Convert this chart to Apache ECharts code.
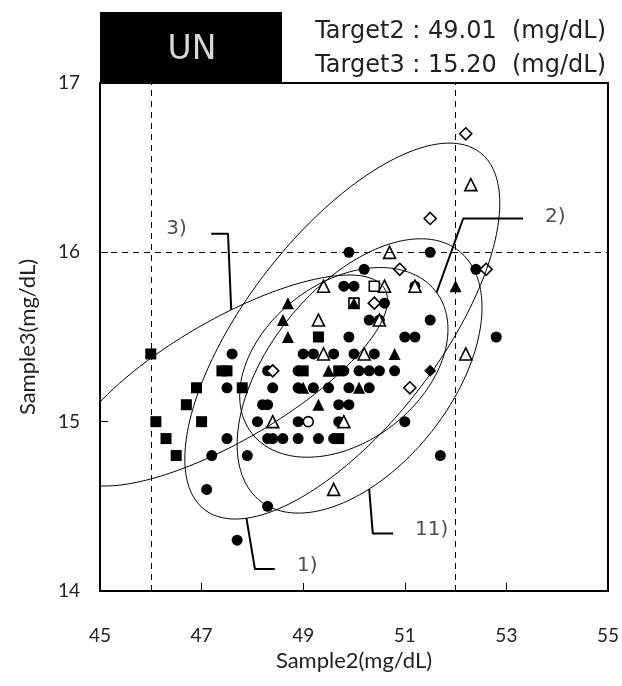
<!DOCTYPE html>
<html>
<head>
<meta charset="utf-8">
<script src="https://cdn.jsdelivr.net/npm/echarts@6/dist/echarts.min.js"></script>
<style>
  html, body { margin: 0; padding: 0; background: #fff; }
  #chart { width: 622px; height: 686px; }
</style>
</head>
<body>
<div id="chart"></div>
<script>
// Axis ticks
const xTickLabels = [45, 47, 49, 51, 53, 55];
const yTickLabels = [14, 15, 16, 17];

// Target values (reference lines) and header text
const targetX = 49.01;
const targetY = 15.20;
const refLinesX = [46, 52];
const refLinesY = [16];

// Measured pairs [Sample2, Sample3], one array per marker group
const filledCircle = [
  [49.9,16.0],[51.5,16.0],[50.2,15.9],[52.4,15.9],[49.8,15.8],[50.0,15.8],[51.2,15.8],
  [50.6,15.7],[50.3,15.6],[50.5,15.6],[51.5,15.6],[49.9,15.5],[51.0,15.5],[51.2,15.5],
  [52.8,15.5],[47.6,15.4],[49.0,15.4],[49.2,15.4],[49.6,15.4],[50.0,15.4],[50.4,15.4],
  [48.3,15.3],[48.9,15.3],[49.8,15.3],[50.1,15.3],[50.3,15.3],[50.5,15.3],[50.8,15.3],
  [47.5,15.2],[48.4,15.2],[48.9,15.2],[49.2,15.2],[49.5,15.2],[49.9,15.2],[50.3,15.2],
  [48.2,15.1],[48.3,15.1],[49.7,15.1],[49.9,15.1],[48.1,15.0],[48.9,15.0],[49.7,15.0],
  [51.0,15.0],[47.5,14.9],[48.3,14.9],[48.4,14.9],[48.6,14.9],[48.9,14.9],[49.3,14.9],
  [49.6,14.9],[47.2,14.8],[47.9,14.8],[51.7,14.8],[47.1,14.6],[48.3,14.5],[47.7,14.3]
];
const filledSquare = [
  [46.0,15.4],[47.4,15.3],[47.5,15.3],[46.9,15.2],[47.8,15.2],[46.7,15.1],[46.1,15.0],
  [47.0,15.0],[46.3,14.9],[46.5,14.8],[49.3,15.5],[49.0,15.3],[49.7,15.3],[49.7,14.9]
];
const openSquare = [[50.4,15.8],[50.0,15.7]];
const openCircle = [[49.1,15.0]];
const filledTriangle = [
  [48.7,15.7],[48.6,15.6],[48.7,15.5],[52.0,15.8],[50.8,15.4],[49.3,15.1],[49.0,15.2],
  [49.5,15.3],[50.1,15.2],[50.0,15.7]
];
const openTriangle = [
  [50.7,16.0],[52.3,16.4],[49.4,15.8],[50.6,15.8],[51.2,15.8],[49.3,15.6],[50.5,15.6],
  [49.4,15.4],[50.2,15.4],[52.2,15.4],[48.4,15.0],[49.8,15.0],[49.6,14.6]
];
const openDiamond = [[52.2,16.7],[51.5,16.2],[50.9,15.9],[52.6,15.9],[50.4,15.7],[48.4,15.3],[51.1,15.2]];
const filledDiamond = [[51.5,15.3]];

// Confidence ellipses: centre, half-ranges and correlation
const ellipseNames = ['1)', '11)', '2)', '3)'];
const ellipseCx  = [49.77, 50.11, 49.80, 47.50];
const ellipseCy  = [15.535, 15.27, 15.35, 15.243];
const ellipseRx  = [3.10, 2.41, 2.05, 3.16];
const ellipseRy  = [1.11, 0.81, 0.56, 0.623];
const ellipseRho = [0.68, 0.50, 0.35, 0.76];

// Callouts: approximate anchor near the ellipse, elbow, end of leader, label position
const calloutAnchor = [[47.89,14.43],[50.22,14.64],[51.59,15.76],[47.62,15.65]];
const calloutElbow  = [[48.05,14.13],[50.37,14.34],[52.15,16.20],[47.52,16.11]];
const calloutEnd    = [[48.44,14.13],[50.77,14.34],[53.33,16.20],[47.19,16.11]];
const calloutLabel  = [[48.88,14.15],[51.20,14.36],[53.76,16.21],[46.71,16.14]];
const calloutAlign  = ['left','left','left','right'];

const X_MIN = 45, X_MAX = 55, Y_MIN = 14, Y_MAX = 17;

function ellipsePath(i) {
  const pts = [];
  const s = Math.sqrt(1 - ellipseRho[i] * ellipseRho[i]);
  for (let k = 0; k <= 240; k++) {
    const t = (k / 240) * Math.PI * 2;
    pts.push([
      ellipseCx[i] + ellipseRx[i] * Math.cos(t),
      ellipseCy[i] + ellipseRy[i] * (ellipseRho[i] * Math.cos(t) + s * Math.sin(t))
    ]);
  }
  return pts;
}

// snap a callout anchor onto its ellipse outline (nearest point on screen)
function snapToEllipse(i, p) {
  const path = ellipsePath(i);
  let best = path[0], bd = Infinity;
  for (const q of path) {
    const dx = (q[0] - p[0]) / (X_MAX - X_MIN);
    const dy = (q[1] - p[1]) / (Y_MAX - Y_MIN);
    const d = dx * dx + dy * dy;
    if (d < bd) { bd = d; best = q; }
  }
  return best;
}

const FONT_WIDE = '"DejaVu Sans"';
const FONT = 'Lato';
const TEXT = '#222';
const series = [];

function scatter(name, data, symbol, size, filled) {
  series.push({
    name, type: 'scatter', data, symbol, symbolSize: size,
    itemStyle: filled
      ? { color: '#000', borderColor: '#000', borderWidth: 0, opacity: 1 }
      : { color: '#fff', borderColor: '#000', borderWidth: 1.6, opacity: 1 },
    emphasis: { disabled: true }, z: 3
  });
}

// reference dashed lines
series.push({
  type: 'line', data: [], silent: true,
  markLine: {
    symbol: 'none', silent: true, label: { show: false },
    lineStyle: { type: [6, 5], color: '#000', width: 1 },
    data: refLinesX.map(v => ({ xAxis: v })).concat(refLinesY.map(v => ({ yAxis: v })))
  }
});

scatter('filledSquare', filledSquare, 'rect', 11, true);
scatter('openSquare', openSquare, 'rect', 10, false);
scatter('filledCircle', filledCircle, 'circle', 11, true);
scatter('openCircle', openCircle, 'circle', 10, false);
scatter('filledTriangle', filledTriangle, 'triangle', 12, true);
scatter('openTriangle', openTriangle, 'triangle', 12, false);
scatter('openDiamond', openDiamond, 'diamond', 12, false);
scatter('filledDiamond', filledDiamond, 'diamond', 12, true);

ellipseNames.forEach((nm, i) => {
  series.push({
    name: 'ellipse ' + nm, type: 'line', data: ellipsePath(i), showSymbol: false,
    smooth: false, clip: true, silent: true,
    lineStyle: { color: '#000', width: 1 }, z: 4
  });
  const a = snapToEllipse(i, calloutAnchor[i]);
  series.push({
    name: 'callout ' + nm, type: 'line', showSymbol: false, silent: true, clip: false,
    data: [a, calloutElbow[i], calloutEnd[i]],
    lineStyle: { color: '#000', width: 2 }, z: 5
  });
  series.push({
    name: 'label ' + nm, type: 'scatter', symbolSize: 0, silent: true,
    data: [calloutLabel[i]],
    label: {
      show: true, formatter: nm, position: calloutAlign[i] === 'left' ? 'right' : 'left',
      distance: 0, color: TEXT, fontFamily: FONT_WIDE, fontSize: 20
    }, z: 5
  });
});

const chart = echarts.init(document.getElementById('chart'), null, { renderer: 'canvas' });
chart.setOption({
  animation: false,
  backgroundColor: '#fff',
  grid: { left: 100, top: 83, width: 508, height: 508, show: true, borderColor: '#000', borderWidth: 2, containLabel: false },
  xAxis: {
    type: 'value', min: X_MIN, max: X_MAX, interval: 2,
    name: 'Sample2(mg/dL)', nameLocation: 'middle', nameGap: 57,
    nameTextStyle: { fontFamily: FONT, fontSize: 22, color: TEXT },
    axisLine: { show: true, onZero: false, lineStyle: { color: '#000', width: 2 } },
    axisTick: { show: true, inside: true, length: 8, lineStyle: { color: '#000', width: 1 } },
    axisLabel: { margin: 35, fontFamily: FONT, fontSize: 19, color: TEXT,
      formatter: v => xTickLabels.includes(v) ? String(v) : '' },
    splitLine: { show: false }
  },
  yAxis: {
    type: 'value', min: Y_MIN, max: Y_MAX, interval: 1,
    name: 'Sample3(mg/dL)', nameLocation: 'middle', nameGap: 61,
    nameTextStyle: { fontFamily: FONT, fontSize: 22, color: TEXT },
    axisLine: { show: true, onZero: false, lineStyle: { color: '#000', width: 2 } },
    axisTick: { show: true, inside: true, length: 8, lineStyle: { color: '#000', width: 1 } },
    axisLabel: { margin: 20, fontFamily: FONT, fontSize: 19, color: TEXT,
      formatter: v => yTickLabels.includes(v) ? String(v) : '' },
    splitLine: { show: false }
  },
  graphic: [
    { type: 'rect', shape: { x: 100, y: 12, width: 182, height: 71 }, style: { fill: '#000' }, z: 10 },
    { type: 'text', x: 192, y: 50, style: { text: 'UN', fill: '#d8d8d8', font: '33px ' + FONT_WIDE, align: 'center', verticalAlign: 'middle' }, z: 11 },
    { type: 'text', x: 606, y: 32, style: { text: 'Target2 : ' + targetX.toFixed(2) + '  (mg/dL)', fill: TEXT, font: '24px ' + FONT_WIDE, align: 'right', verticalAlign: 'middle' }, z: 11 },
    { type: 'text', x: 606, y: 66, style: { text: 'Target3 : ' + targetY.toFixed(2) + '  (mg/dL)', fill: TEXT, font: '24px ' + FONT_WIDE, align: 'right', verticalAlign: 'middle' }, z: 11 }
  ],
  series
});
</script>
</body>
</html>
